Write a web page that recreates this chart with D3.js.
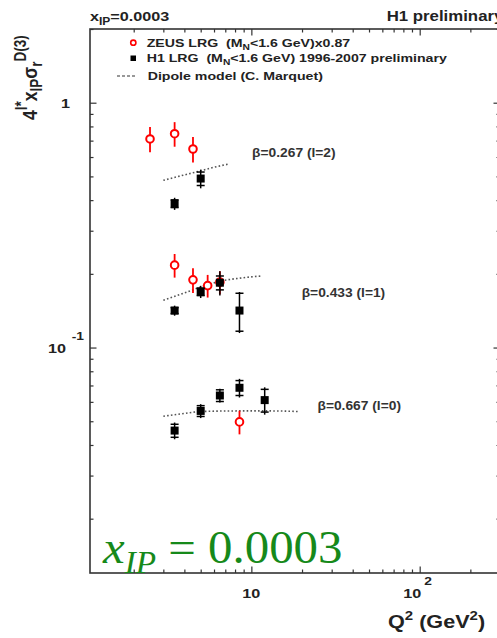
<!DOCTYPE html>
<html>
<head>
<meta charset="utf-8">
<script src="https://cdn.jsdelivr.net/npm/d3@7"></script>
<style>
  body { margin: 0; background: #fff; }
  text { font-family: "Liberation Sans", Arial, sans-serif; font-weight: bold; white-space: pre; }
</style>
</head>
<body>
<svg id="chart" width="497" height="638"></svg>
<script>
// ZEUS LRG points (red open circles), three beta groups one after the other
var zeusQ2  = [2.5, 3.5, 4.5,   3.5, 4.5, 5.5, 6.5,   8.5];
var zeusVal = [0.711, 0.747, 0.647,   0.217, 0.189, 0.179, 0.185,   0.0497];
var zeusErr = [0.084, 0.086, 0.077,   0.024, 0.022, 0.019, 0.020,   0.0055];

// H1 LRG points (black squares)
var h1Q2   = [3.5, 5,   3.5, 5, 6.5, 8.5,   3.5, 5, 6.5, 8.5, 12];
var h1Val  = [0.387, 0.49,   0.1416, 0.169, 0.184, 0.1416,   0.0458, 0.0551, 0.0637, 0.0685, 0.061];
var h1Stat = [0.014, 0.031,  0.004, 0.006, 0.012, 0.025,     0.0028, 0.0028, 0.0035, 0.0048, 0.0065];
var h1Tot  = [0.022, 0.043,  0.0067, 0.0097, 0.021, 0.027,   0.0036, 0.0036, 0.0041, 0.006, 0.0078];

// dipole model curves (C. Marquet)
var dipoleQ2 = [
  [3, 4, 5, 6, 7.4],
  [3, 4, 5, 6.5, 8.5, 11.5],
  [3, 4, 5, 8.5, 13, 19]
];
var dipoleVal = [
  [0.482, 0.507, 0.527, 0.545, 0.562],
  [0.156, 0.167, 0.1766, 0.1865, 0.192, 0.196],
  [0.0524, 0.0538, 0.0548, 0.0551, 0.0551, 0.0548]
];

var betaLabels = ['\u03b2=0.267 (l=2)', '\u03b2=0.433 (l=1)', '\u03b2=0.667 (l=0)'];
var betaLabelQ2 = [10.1, 19.9, 24.7];
var betaLabelVal = [0.602, 0.161, 0.0557];

var xMajor = [10, 100];
var yMajor = [0.1, 1];

var svg = d3.select('#chart');
var W = 90, E = 500, T = 29, B = 573;
var sx = 1.2; // the original picture is stretched sideways

var x = d3.scaleLog().domain([1.1, 300]).range([W, E]);
var y = d3.scaleLog().domain([0.012, 2]).range([B, T]);

function isMajor(v) {
  var l = Math.log10(v);
  return Math.abs(l - Math.round(l)) < 1e-9;
}
var xMinor = x.ticks().filter(function(v){ return !isMajor(v); });
var yMinor = y.ticks().filter(function(v){ return !isMajor(v); });

function clean(g) { g.select('.domain').remove(); g.selectAll('line').attr('stroke', '#333').attr('stroke-width', 1.2); }

// ticks on all four sides, pointing inward
svg.append('g').attr('transform', 'translate(0,' + B + ')')
  .call(d3.axisBottom(x).tickValues(xMinor).tickSize(-3.5).tickFormat('')).call(clean);
svg.append('g').attr('transform', 'translate(0,' + B + ')')
  .call(d3.axisBottom(x).tickValues(xMajor).tickSize(-6.5).tickFormat('')).call(clean);
svg.append('g').attr('transform', 'translate(0,' + T + ')')
  .call(d3.axisTop(x).tickValues(xMinor).tickSize(-3.5).tickFormat('')).call(clean);
svg.append('g').attr('transform', 'translate(0,' + T + ')')
  .call(d3.axisTop(x).tickValues(xMajor).tickSize(-6.5).tickFormat('')).call(clean);
svg.append('g').attr('transform', 'translate(' + W + ',0)')
  .call(d3.axisLeft(y).tickValues(yMinor).tickSize(-3.5).tickFormat('')).call(clean);
svg.append('g').attr('transform', 'translate(' + W + ',0)')
  .call(d3.axisLeft(y).tickValues(yMajor).tickSize(-6.5).tickFormat('')).call(clean);
svg.append('g').attr('transform', 'translate(' + E + ',0)')
  .call(d3.axisRight(y).tickValues(yMinor).tickSize(-3.5).tickFormat('')).call(clean);
svg.append('g').attr('transform', 'translate(' + E + ',0)')
  .call(d3.axisRight(y).tickValues(yMajor).tickSize(-6.5).tickFormat('')).call(clean);

svg.append('rect')
  .attr('x', W).attr('y', T).attr('width', E - W).attr('height', B - T)
  .attr('fill', 'none').attr('stroke', '#333').attr('stroke-width', 1.6);

// text helper, stretched like the original
function txt(px, py, size, anchor, s) {
  var t = svg.append('text')
    .attr('transform', 'translate(' + px + ',' + py + ') scale(' + (s || sx) + ',1)')
    .attr('font-size', size)
    .attr('text-anchor', anchor || 'start')
    .attr('fill', '#222');
  return t;
}

// x tick labels
txt(x(10), 598, 13.5, 'middle').text('10');
var t100 = txt(x(100) - 2, 598, 13.5, 'middle');
t100.append('tspan').text('10');
t100.append('tspan').attr('dy', -13).attr('dx', 2.5).attr('font-size', 11.5).text('2');

// y tick labels
txt(W - 20, 108, 13.5, 'end').text('1');
var t01 = txt(W - 24, 353, 13.5, 'end');
t01.append('tspan').text('10');
txt(W - 6, 340, 11.5, 'end').text('-1');

// axis titles
var xt = txt(388, 628, 18, 'start', 1.2);
xt.append('tspan').text('Q');
xt.append('tspan').attr('dy', -8).attr('font-size', 12.5).text('2');
xt.append('tspan').attr('dy', 8).text(' (GeV');
xt.append('tspan').attr('dy', -8).attr('font-size', 12.5).text('2');
xt.append('tspan').attr('dy', 8).text(')');

var yt = svg.append('text')
  .attr('transform', 'translate(37,120) rotate(-90) scale(1,1.2)')
  .attr('font-size', 17.5).attr('fill', '#222');
yt.append('tspan').text('4');
yt.append('tspan').attr('dy', -8).attr('font-size', 13.5).text('l*');
yt.append('tspan').attr('dy', 8).text('x');
yt.append('tspan').attr('dy', 4).attr('font-size', 13.5).text('IP');
yt.append('tspan').attr('dy', -4).text('\u03c3');
yt.append('tspan').attr('dy', 4).attr('font-size', 13.5).text('r');
yt.append('tspan').attr('dy', -13).attr('font-size', 13.5).text('D(3)');

// header
var hx = txt(W, 21, 13.5, 'start');
hx.append('tspan').text('x');
hx.append('tspan').attr('dy', 4).attr('font-size', 10).text('IP');
hx.append('tspan').attr('dy', -4).text('=0.0003');
txt(386.7, 21, 14, 'start').text('H1 preliminary');

// legend
svg.append('circle').attr('cx', 133.3).attr('cy', 42.7).attr('r', 2.6)
  .attr('fill', '#fff').attr('stroke', '#f00').attr('stroke-width', 1.6);
svg.append('rect').attr('x', 130.5).attr('y', 55.5).attr('width', 5.5).attr('height', 5.5).attr('fill', '#000');
svg.append('line').attr('x1', 117).attr('x2', 135).attr('y1', 76).attr('y2', 76)
  .attr('stroke', '#333').attr('stroke-width', 1.2).attr('stroke-dasharray', '3,2');

var l1 = txt(146.7, 47, 11.8, 'start');
l1.append('tspan').text('ZEUS LRG  (M');
l1.append('tspan').attr('dy', 3).attr('font-size', 8.5).text('N');
l1.append('tspan').attr('dy', -3).text('<1.6 GeV)x0.87');
var l2 = txt(146.7, 62, 11.8, 'start');
l2.append('tspan').text('H1 LRG  (M');
l2.append('tspan').attr('dy', 3).attr('font-size', 8.5).text('N');
l2.append('tspan').attr('dy', -3).text('<1.6 GeV) 1996-2007 preliminary');
txt(147.7, 80, 11.8, 'start').text('Dipole model (C. Marquet)');

// dipole curves
var line = d3.line()
  .x(function(d){ return x(d[0]); })
  .y(function(d){ return y(d[1]); })
  .curve(d3.curveMonotoneX);
svg.selectAll('path.dipole')
  .data(dipoleQ2.map(function(q, i){ return q.map(function(v, j){ return [v, dipoleVal[i][j]]; }); }))
  .enter().append('path')
  .attr('class', 'dipole')
  .attr('d', line)
  .attr('fill', 'none')
  .attr('stroke', '#555')
  .attr('stroke-width', 1.6)
  .attr('stroke-dasharray', '1.6,2.2');

// ZEUS points
var zeus = zeusQ2.map(function(q, i){ return { q: q, v: zeusVal[i], e: zeusErr[i] }; });
svg.selectAll('line.zerr').data(zeus).enter().append('line')
  .attr('class', 'zerr')
  .attr('x1', function(d){ return x(d.q); }).attr('x2', function(d){ return x(d.q); })
  .attr('y1', function(d){ return y(d.v + d.e); }).attr('y2', function(d){ return y(d.v - d.e); })
  .attr('stroke', '#f00').attr('stroke-width', 1.8);
svg.selectAll('circle.zeus').data(zeus).enter().append('circle')
  .attr('class', 'zeus')
  .attr('cx', function(d){ return x(d.q); })
  .attr('cy', function(d){ return y(d.v); })
  .attr('r', 3.8)
  .attr('fill', '#fff').attr('stroke', '#f00').attr('stroke-width', 2);

// H1 points
var h1 = h1Q2.map(function(q, i){ return { q: q, v: h1Val[i], s: h1Stat[i], t: h1Tot[i] }; });
svg.selectAll('line.herr').data(h1).enter().append('line')
  .attr('class', 'herr')
  .attr('x1', function(d){ return x(d.q); }).attr('x2', function(d){ return x(d.q); })
  .attr('y1', function(d){ return y(d.v + d.t); }).attr('y2', function(d){ return y(d.v - d.t); })
  .attr('stroke', '#000').attr('stroke-width', 1.5);
[1, -1].forEach(function(sign){
  svg.selectAll('line.hcap' + sign).data(h1).enter().append('line')
    .attr('x1', function(d){ return x(d.q) - 4; }).attr('x2', function(d){ return x(d.q) + 4; })
    .attr('y1', function(d){ return y(d.v + sign * d.s); }).attr('y2', function(d){ return y(d.v + sign * d.s); })
    .attr('stroke', '#000').attr('stroke-width', 1.5);
});
svg.selectAll('rect.h1').data(h1).enter().append('rect')
  .attr('class', 'h1')
  .attr('x', function(d){ return x(d.q) - 4; })
  .attr('y', function(d){ return y(d.v) - 4; })
  .attr('width', 8).attr('height', 8)
  .attr('fill', '#000');

// beta labels
betaLabels.forEach(function(s, i){
  txt(x(betaLabelQ2[i]), y(betaLabelVal[i]), 12, 'start', 1.15).attr('fill', '#333').text(s);
});

// big green annotation (serif, not bold)
var g = svg.append('text')
  .attr('transform', 'translate(103,563) scale(1.04,1)')
  .style('font-family', '"Liberation Serif", "DejaVu Serif", serif')
  .style('font-weight', 'normal')
  .attr('font-size', 47)
  .attr('fill', '#16891a');
g.append('tspan').style('font-style', 'italic').text('x');
g.append('tspan').style('font-style', 'italic').attr('font-size', 32).attr('dy', 10).text('IP');
g.append('tspan').attr('dy', -10).text(' = 0.0003');
</script>
</body>
</html>
